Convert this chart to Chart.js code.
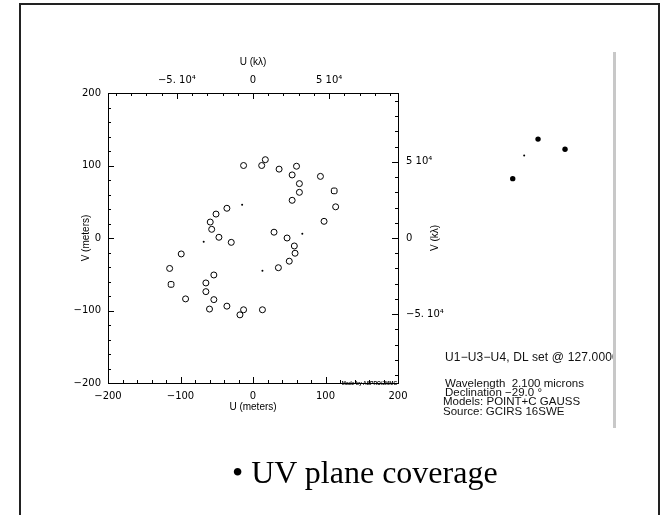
<!DOCTYPE html>
<html>
<head>
<meta charset="utf-8">
<script src="https://cdn.jsdelivr.net/npm/chart.js@4.4.1/dist/chart.umd.min.js"></script>
<style>
html,body{margin:0;padding:0;background:#fff;}
#wrap{position:relative;width:660px;height:515px;overflow:hidden;background:#fff;}
#frame{position:absolute;left:19px;top:3px;width:641px;height:600px;border:2px solid #222;box-sizing:border-box;}
#bar{position:absolute;left:613px;top:52px;width:3px;height:376px;background:#c8c8c8;}
#uv{position:absolute;left:0;top:0;}
#tel{position:absolute;left:470px;top:100px;}
.info{position:absolute;font-family:"Liberation Sans",Arial,sans-serif;font-size:11.5px;color:#111;white-space:nowrap;line-height:12px;}
#cfg{left:445px;top:351px;width:168px;overflow:hidden;font-size:12px;letter-spacing:0.15px;}
#caption{position:absolute;left:232px;top:456px;font-family:"Liberation Serif","Times New Roman",serif;font-size:32px;line-height:32px;color:#000;white-space:nowrap;}
</style>
</head>
<body>
<div id="wrap">
  <div id="frame"></div>
  <canvas id="uv" width="660" height="515"></canvas>
  <canvas id="tel" width="140" height="120"></canvas>
  <div id="bar"></div>
  <div class="info" id="cfg">U1−U3−U4, DL set @ 127.0000</div>
  <div class="info" style="left:445px;top:377px;">Wavelength&nbsp; 2.100 microns</div>
  <div class="info" style="left:445px;top:386px;">Declination −29.0 °</div>
  <div class="info" style="left:443px;top:395px;">Models: POINT+C GAUSS</div>
  <div class="info" style="left:443px;top:405px;">Source: GCIRS 16SWE</div>
  <div id="caption">• UV plane coverage</div>
</div>
<script>
// ---- data (meters) ----
const uvCirclesU = [-13, 12, 17, 36, 60, 54, 93, 64, 64, 54, 114, -36, -51, -59, 98, -57, 29, -47, 47, -30, 57, -99, 58, 50, 35, -115, -54, -65, -65, -93, -54, -60, -36, -13, -18, 13];
const uvCirclesV = [100, 100, 108, 95, 99, 87, 85, 75, 63, 52, 43, 41, 33, 22, 23, 12, 8, 1, 0, -6, -11, -22, -21, -32, -41, -42, -51, -62, -74, -84, -85, -98, -94, -99, -106, -99];
const uvSquaresU = [112, -113];
const uvSquaresV = [65, -64];
const uvDotsU = [-15, 13, 68, -68];
const uvDotsV = [46, -45, 6, -5];

const meterTicks = [-200, -100, 0, 100, 200];
const meterTickLabels = ['−200', '−100', '0', '100', '200'];
const kLambdaTicks = [-50000, 0, 50000];
const kLambdaTickLabels = ['−5. 10⁴', '0', '5 10⁴'];
const wavelengthMicrons = 2.1;
const kLambdaPerMeter = 1 / (wavelengthMicrons * 1e-3); // 1 m -> kλ

// telescope layout (meters)
const telescopeNames = ['U1', 'U2', 'U3', 'U4'];
const telescopeX = [-9.9, 14.9, 44.9, 103.3];
const telescopeY = [-20.3, 30.5, 66.2, 44.0];

const FONT = '"Liberation Sans", Arial, sans-serif';
const TICKFONT = '"DejaVu Sans", "Liberation Sans", sans-serif';
const toXY = (us, vs) => us.map((u, i) => ({x: u, y: vs[i]}));
const kMax = 200 * kLambdaPerMeter;

const frameDeco = {
  id: 'frameDeco',
  afterDraw(chart) {
    const {ctx, chartArea: a, scales} = chart;
    ctx.save();
    ctx.strokeStyle = '#000';
    ctx.lineWidth = 1;
    const seg = (x1, y1, x2, y2) => { ctx.beginPath(); ctx.moveTo(x1, y1); ctx.lineTo(x2, y2); ctx.stroke(); };
    // meters ticks (bottom / left): every 20, major every 100
    for (let v = -180; v <= 180; v += 20) {
      const len = (v % 100 === 0) ? 6 : 3;
      const px = Math.round(scales.x.getPixelForValue(v)) + 0.5;
      seg(px, a.bottom, px, a.bottom - len);
      const py = Math.round(scales.y.getPixelForValue(v)) + 0.5;
      seg(a.left, py, a.left + len, py);
    }
    // kλ ticks (top / right): every 1e4, major every 5e4
    for (let k = -90000; k <= 90000; k += 10000) {
      const len = (k % 50000 === 0) ? 6 : 3;
      const px = Math.round(scales.x2.getPixelForValue(k)) + 0.5;
      seg(px, a.top, px, a.top + len);
      const py = Math.round(scales.y2.getPixelForValue(k)) + 0.5;
      seg(a.right, py, a.right - len, py);
    }
    // axis titles
    ctx.fillStyle = '#000';
    ctx.font = '10px ' + FONT;
    ctx.textAlign = 'center';
    ctx.textBaseline = 'middle';
    const cx = (a.left + a.right) / 2, cy = (a.top + a.bottom) / 2;
    ctx.fillText('U (kλ)', cx, a.top - 31);
    ctx.fillText('U (meters)', cx, a.bottom + 24);
    ctx.save(); ctx.translate(a.left - 22, cy); ctx.rotate(-Math.PI / 2); ctx.fillText('V (meters)', 0, 0); ctx.restore();
    ctx.save(); ctx.translate(a.right + 37, cy); ctx.rotate(-Math.PI / 2); ctx.fillText('V (kλ)', 0, 0); ctx.restore();
    // tiny credit
    ctx.font = 'bold 5px ' + FONT;
    ctx.textAlign = 'right';
    ctx.fillText('Made by ASPRO/JMMC', a.right - 1, a.bottom + 1);
    ctx.restore();
  }
};

const tickFont = {family: TICKFONT, size: 10};
const commonAxis = {
  grid: {display: false, drawTicks: false},
  border: {display: true, color: '#000', width: 1},
};

new Chart(document.getElementById('uv'), {
  type: 'scatter',
  data: {
    datasets: [
      {label: 'baselines', data: toXY(uvCirclesU, uvCirclesV), pointStyle: 'circle', pointRadius: 3,
       borderColor: '#000', borderWidth: 1, backgroundColor: 'rgba(0,0,0,0)', xAxisID: 'x', yAxisID: 'y'},
      {label: 'baselines2', data: toXY(uvSquaresU, uvSquaresV), pointStyle: 'rectRounded', pointRadius: 3.3,
       borderColor: '#000', borderWidth: 1, backgroundColor: 'rgba(0,0,0,0)', xAxisID: 'x', yAxisID: 'y'},
      {label: 'dots', data: toXY(uvDotsU, uvDotsV), pointStyle: 'circle', pointRadius: 1,
       borderWidth: 0, backgroundColor: '#000', xAxisID: 'x', yAxisID: 'y'}
    ]
  },
  options: {
    responsive: false, animation: false, devicePixelRatio: 1,
    layout: {padding: 0},
    plugins: {legend: {display: false}, tooltip: {enabled: false}},
    scales: {
      x: Object.assign({}, commonAxis, {
        type: 'linear', position: 'bottom', min: -200, max: 200,
        afterBuildTicks: s => { s.ticks = meterTicks.map(v => ({value: v})); },
        afterFit: s => { s.height = 132; },
        ticks: {padding: 7, maxRotation: 0, autoSkip: false, color: '#000', font: tickFont,
                callback: v => meterTickLabels[meterTicks.indexOf(v)]}
      }),
      y: Object.assign({}, commonAxis, {
        type: 'linear', position: 'left', min: -200, max: 200,
        afterBuildTicks: s => { s.ticks = meterTicks.map(v => ({value: v})); },
        afterFit: s => { s.width = 108; },
        ticks: {padding: 7, autoSkip: false, color: '#000', font: tickFont,
                callback: v => meterTickLabels[meterTicks.indexOf(v)]}
      }),
      x2: Object.assign({}, commonAxis, {
        type: 'linear', position: 'top', min: -kMax, max: kMax,
        afterBuildTicks: s => { s.ticks = kLambdaTicks.map(v => ({value: v})); },
        afterFit: s => { s.height = 93; },
        ticks: {padding: 7, maxRotation: 0, autoSkip: false, color: '#000', font: tickFont,
                callback: v => kLambdaTickLabels[kLambdaTicks.indexOf(v)]}
      }),
      y2: Object.assign({}, commonAxis, {
        type: 'linear', position: 'right', min: -kMax, max: kMax,
        afterBuildTicks: s => { s.ticks = kLambdaTicks.map(v => ({value: v})); },
        afterFit: s => { s.width = 262; },
        ticks: {padding: 8, autoSkip: false, color: '#000', font: tickFont,
                callback: v => kLambdaTickLabels[kLambdaTicks.indexOf(v)]}
      })
    }
  },
  plugins: [frameDeco]
});

new Chart(document.getElementById('tel'), {
  type: 'scatter',
  data: {
    labels: telescopeNames,
    datasets: [{label: 'telescopes', data: toXY(telescopeX, telescopeY),
      pointRadius: [2.7, 1, 2.7, 2.7], borderWidth: 0, backgroundColor: '#000'}]
  },
  options: {
    responsive: false, animation: false, devicePixelRatio: 1,
    layout: {padding: 0},
    plugins: {legend: {display: false}, tooltip: {enabled: false}},
    scales: {
      x: {display: false, min: -93.7, max: 192},
      y: {display: false, min: -102, max: 142.9}
    }
  }
});
</script>
</body>
</html>
